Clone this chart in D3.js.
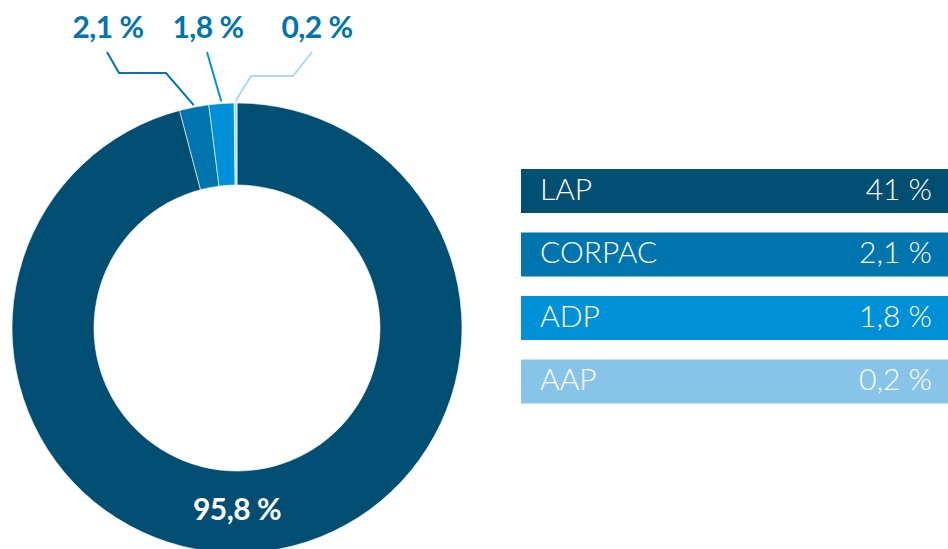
<!DOCTYPE html>
<html>
<head>
<meta charset="utf-8">
<script src="https://cdn.jsdelivr.net/npm/d3@7"></script>
<style>
  html, body { margin: 0; padding: 0; background: #fff; }
  svg { display: block; font-family: Lato, "Open Sans", sans-serif; }
</style>
</head>
<body>
<svg id="chart" width="948" height="549"></svg>
<script>
// donut slices (clockwise from 12 o'clock)
const sliceNames = ["LAP", "CORPAC", "ADP", "AAP"];
const sliceValues = [95.8, 2.1, 1.8, 0.2];
const sliceLabels = ["95,8 %", "2,1 %", "1,8 %", "0,2 %"];
const sliceColors = ["#004f73", "#0074ad", "#0090d7", "#a9d9f4"];

// legend bars on the right
const legendNames = ["LAP", "CORPAC", "ADP", "AAP"];
const legendValues = ["41 %", "2,1 %", "1,8 %", "0,2 %"];
const legendColors = ["#004f73", "#0074ad", "#0090d7", "#88c3e8"];

var svg = d3.select("#chart");
var cx = 237, cy = 328, rOut = 225, rIn = 143;

var pie = d3.pie().sort(null).value(function(d) { return d; });
var arcs = pie(sliceValues);
var arc = d3.arc().innerRadius(rIn).outerRadius(rOut);

var g = svg.append("g").attr("transform", "translate(" + cx + "," + cy + ")");

g.selectAll("path.slice")
  .data(arcs)
  .enter().append("path")
  .attr("class", "slice")
  .attr("d", arc)
  .attr("fill", function(d, i) { return sliceColors[i]; })
  .attr("stroke", "#fff")
  .attr("stroke-width", 0.6);

// big slice label inside the ring
svg.append("text")
  .attr("x", cx)
  .attr("y", 520)
  .attr("text-anchor", "middle")
  .attr("fill", "#fff")
  .attr("font-weight", 700)
  .attr("font-size", 30)
  .attr("letter-spacing", -0.5)
  .text(sliceLabels[0]);

// small slices get callouts above the ring
var callouts = [
  { i: 1, x: 108, elbow: [[-1, 52], [11, 73], [58, 73]] },
  { i: 2, x: 208, elbow: [[-1, 52]] },
  { i: 3, x: 317, elbow: [[-5, 52], [-24, 76], [-66, 76]] }
];

callouts.forEach(function(c) {
  var a = arcs[c.i];
  var mid = (a.startAngle + a.endAngle) / 2;
  var r = rOut + 2;
  var end = [cx + r * Math.sin(mid), cy - r * Math.cos(mid)];
  var pts = c.elbow.map(function(p) { return [c.x + p[0], p[1]]; });
  pts.push(end);

  svg.append("path")
    .attr("d", d3.line()(pts))
    .attr("fill", "none")
    .attr("stroke", sliceColors[c.i])
    .attr("stroke-width", 2);

  svg.append("text")
    .attr("x", c.x)
    .attr("y", 38)
    .attr("text-anchor", "middle")
    .attr("fill", "#0074ad")
    .attr("font-weight", 700)
    .attr("font-size", 30)
    .attr("letter-spacing", -0.5)
    .text(sliceLabels[c.i]);
});

// legend
var y = d3.scaleBand()
  .domain(legendNames)
  .range([169, 403.5])
  .paddingInner(0.307)
  .paddingOuter(0);

var rows = svg.selectAll("g.row")
  .data(legendNames)
  .enter().append("g")
  .attr("class", "row")
  .attr("transform", function(d) { return "translate(0," + y(d) + ")"; });

rows.append("rect")
  .attr("x", 521)
  .attr("width", 948 - 521)
  .attr("height", y.bandwidth())
  .attr("fill", function(d, i) { return legendColors[i]; });

rows.append("text")
  .attr("x", 540)
  .attr("y", 31)
  .attr("fill", "#fff")
  .attr("font-weight", 300)
  .attr("font-size", 30)
  .text(function(d) { return d; });

rows.append("text")
  .attr("x", 932)
  .attr("y", 31)
  .attr("text-anchor", "end")
  .attr("fill", "#fff")
  .attr("font-weight", 300)
  .attr("font-size", 30)
  .text(function(d, i) { return legendValues[i]; });
</script>
</body>
</html>
